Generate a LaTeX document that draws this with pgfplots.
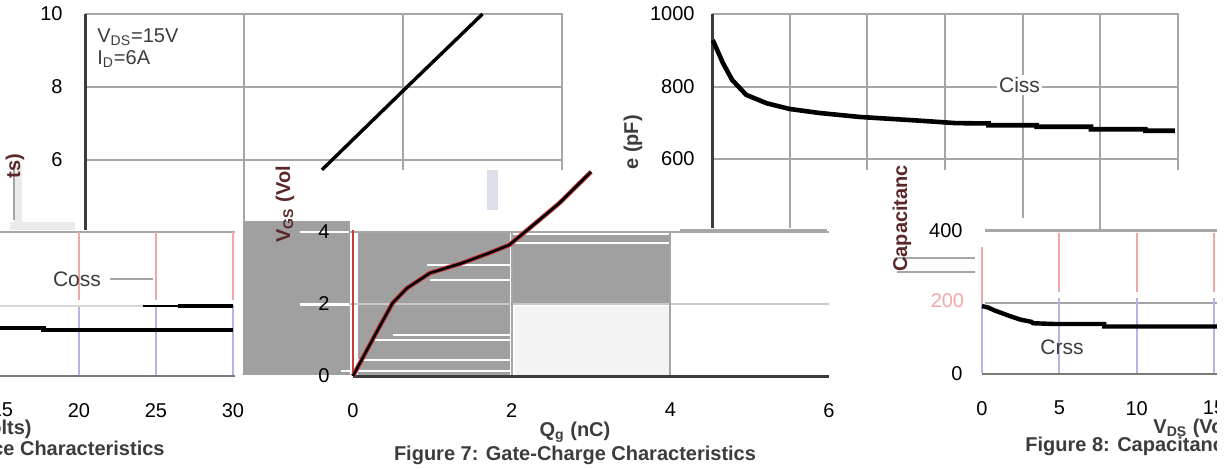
\documentclass[border=0pt]{standalone}
\usepackage{fontspec}
\setmainfont{Liberation Sans}
\usepackage{pgfplots}
\pgfplotsset{compat=1.18}
\definecolor{gridc}{HTML}{A6A6A6}
\definecolor{axd}{HTML}{3C3C3C}
\definecolor{axm}{HTML}{7A7A7A}
\definecolor{fillg}{HTML}{A0A0A0}
\definecolor{lfill}{HTML}{F4F4F4}
\definecolor{pinkl}{HTML}{F0A8A8}
\definecolor{bluel}{HTML}{B4B4E6}
\definecolor{redl}{HTML}{C83C3C}
\definecolor{lbar}{HTML}{EBEBEB}
\definecolor{dred}{HTML}{5A2828}
\definecolor{bbar}{HTML}{DDE0EA}
\definecolor{g2}{HTML}{C8C8C8}
\definecolor{g3}{HTML}{D8D8D8}
\newcommand\f{\fontsize{10}{12}\selectfont}
\newcommand\fl{\fontsize{10.5}{12.5}\selectfont}
\tikzset{gl/.style={draw=gridc,line width=1pt},
         pl/.style={draw=pinkl,line width=0.9pt},
         bl/.style={draw=bluel,line width=0.9pt}}
\pgfplotsset{
  panel/.style={scale only axis, clip=false, axis line style={draw=none},
    major tick length=0pt, tick style={draw=none}, axis on top,
    tick label style={font=\f}, /pgf/number format/assume math mode=true,
    /pgf/number format/1000 sep={},
    anchor=south west, xticklabel style={yshift=-10pt}},
}
\begin{document}
\begin{tikzpicture}[font=\f]
\path[use as bounding box] (0,0) rectangle (614.5pt,-235pt);

% ---------- Panel A : gate charge, upper part ----------
\begin{axis}[panel, at={(42.5pt,-116.5pt)}, width=238.5pt, height=109.5pt,
  xmin=0, xmax=6, ymin=4, ymax=10, xtick=\empty, ytick={6,8,10},
  yticklabel style={xshift=-7.7pt}]
\fill[lbar] (-0.893,5.86) rectangle (-0.792,4.30);
\fill[lbar] (-0.943,4.30) rectangle (-0.126,4.08);
\draw[gridc,line width=0.6pt] (-0.893,5.86) -- (-0.893,4.35);
\fill[bbar] (5.06,5.73) rectangle (5.19,4.63);
\draw[gl] (0,10) -- (6,10) -- (6,5.73);
\draw[gl] (0,8) -- (6,8);
\draw[gl] (0,6) -- (6,6);
\draw[gl] (2,10) -- (2,4.30);
\draw[gl] (4,10) -- (4,5.73);
\draw[axd,line width=1.5pt] (0,10) -- (0,4.08);
\addplot[black, line width=1.7pt] coordinates {(2.98,5.73) (4.05,8) (5.0,10)};
\node[anchor=north west, align=left, inner sep=0pt, font=\f, text=axd] at (0.15,9.62)
  {V\textsubscript{DS}=15V\\[-1pt]I\textsubscript{D}=6A};
\end{axis}

% ---------- Panel B : gate charge, lower part ----------
\begin{axis}[panel, at={(176.5pt,-188pt)}, width=238pt, height=72pt,
  xmin=0, xmax=6, ymin=0, ymax=4, xtick={0,2,4,6}, ytick={0,2,4},
  yticklabel style={xshift=-8.2pt}]
\fill[fillg] (-1.387,0.03) rectangle (-0.04,4.31);
\fill[fillg] (0.06,0.03) rectangle (1.98,3.97);
\fill[fillg] (2.02,2.03) rectangle (4.0,3.92);
\fill[lfill] (2.04,0) rectangle (4.0,1.94);
\draw[white,line width=1.4pt] (-0.67,4.0) -- (0.0,4.0);
\draw[white,line width=1.4pt] (-0.67,1.98) -- (0.0,1.98);
\draw[white,line width=0.8pt] (-0.15,0.14) -- (0.0,0.14);
\draw[white,line width=0.9pt] (0.93,3.08) -- (1.98,3.08);
\draw[white,line width=0.9pt] (0.97,2.67) -- (1.98,2.67);
\draw[white,line width=0.9pt] (0.5,1.14) -- (1.98,1.14);
\draw[white,line width=0.9pt] (0.21,1.0) -- (1.98,1.0);
\draw[white,line width=0.9pt] (0.05,0.44) -- (1.98,0.44);
\draw[white,line width=0.9pt] (0.05,0.14) -- (1.98,0.14);
\draw[white,line width=0.9pt] (2.02,3.69) -- (4.0,3.69);
\draw[gl] (-0.05,4) -- (6,4);
\draw[g2,line width=1pt] (-0.05,2) -- (6,2);
\draw[gl] (2,0) -- (2,4);
\draw[gl] (4,0) -- (4,4);
\draw[redl,line width=0.6pt] (0,0) -- (0,4.06);
\draw[axd,line width=1.5pt] (0,0) -- (6,0);
\addplot[redl, line width=2.3pt] coordinates {(0,0) (0.29,1.19) (0.5,2.03) (0.68,2.44) (0.97,2.86) (1.38,3.14) (1.72,3.42) (1.97,3.64) (2.2,4.06) (2.6,4.8) (3.0,5.67)};
\addplot[black, line width=1.3pt] coordinates {(0,0) (0.29,1.19) (0.5,2.03) (0.68,2.44) (0.97,2.86) (1.38,3.14) (1.72,3.42) (1.97,3.64) (2.2,4.06) (2.6,4.8) (3.0,5.67)};
\end{axis}

% ---------- Panel C : capacitance, upper part ----------
\begin{axis}[panel, at={(356pt,-115.75pt)}, width=233pt, height=108.75pt,
  xmin=0, xmax=30, ymin=400, ymax=1000, xtick=\empty, ytick={600,800,1000},
  yticklabel style={xshift=-5.2pt}]
\draw[gl] (0,1000) -- (30,1000) -- (30,570);
\draw[gl] (0,800) -- (30,800);
\draw[gl] (0,600) -- (30,600);
\draw[gl] (5,1000) -- (5,410);
\draw[gl] (10,1000) -- (10,570);
\draw[gl] (15,1000) -- (15,570);
\draw[gl] (20,1000) -- (20,437);
\draw[gl] (25,1000) -- (25,404);
\draw[gl] (-2.06,404) -- (7.4,404);
\draw[gl] (17.58,404) -- (33.3,404);
\draw[axd,line width=1.5pt] (0,1000) -- (0,410);
\addplot[black, line width=2.3pt] coordinates {(0.05,928) (0.7,865) (1.3,818) (2.2,777) (3.5,754) (5,738) (6.9,727) (9.5,716) (12.9,707) (15.7,699) (17.8,698) (17.8,693) (20.9,693) (20.9,689) (24.4,689) (24.4,682) (27.9,682) (27.9,678) (29.8,678)};
\node[fill=white, inner sep=1pt, font=\fl, text=axd] at (19.8,804) {Ciss};
\end{axis}

% ---------- Panel D : capacitance, lower right ----------
\begin{axis}[panel, at={(491pt,-187pt)}, width=123.75pt, height=71.5pt,
  xmin=0, xmax=16, ymin=0, ymax=400, xtick={0,5,10,15}, ytick={0,400},
  yticklabel style={xshift=-6.2pt}]
\draw[gl] (0.2,400) -- (16,400);
\draw[gl] (0.2,200) -- (16,200);
\draw[gl] (-5.5,324) -- (-0.45,324);
\draw[gl] (-5.5,285) -- (-0.45,285);
\draw[pl] (5,394) -- (5,229);  \draw[bl] (5,212) -- (5,3);
\draw[pl] (10,394) -- (10,229); \draw[bl] (10,212) -- (10,3);
\draw[pl] (15,394) -- (15,229); \draw[bl] (15,212) -- (15,3);
\draw[pl] (0,355) -- (0,200);
\draw[bl] (0,200) -- (0,3);
\draw[axm,line width=1.2pt] (0,0) -- (16,0);
\addplot[black, line width=2.2pt] coordinates {(0,190) (0.4,186) (0.8,178) (1.3,170) (1.8,162) (2.5,152) (3.2,146) (3.3,142) (4.6,140) (7.9,140) (7.9,133) (16,133)};
\node[font=\fl, text=axd] at (5.17,75) {Crss};
\node[anchor=east, font=\f, text=pinkl] at (-0.7,204) {200};
\end{axis}

% ---------- Panel E : capacitance, lower left ----------
\begin{axis}[panel, at={(1pt,-188pt)}, width=115.5pt, height=72pt,
  xmin=15, xmax=30, ymin=0, ymax=400, xtick={15,20,25,30}, ytick=\empty]
\draw[gl] (14.87,400) -- (30.1,400);
\draw[pl] (20,400) -- (20,211); \draw[bl] (20,197) -- (20,0);
\draw[pl] (25,400) -- (25,211); \draw[bl] (25,197) -- (25,0);
\draw[pl] (30,400) -- (30,211); \draw[bl] (30,197) -- (30,0);
\draw[g3,line width=1pt] (14.87,194) -- (24.16,194);
\draw[black,line width=0.8pt] (24.16,194) -- (26.4,194);
\draw[black,line width=2pt] (26.4,194) -- (30,194);
\draw[gl] (22.0,269) -- (24.8,269);
\draw[axm,line width=1.2pt] (14.87,0) -- (30.1,0);
\addplot[black, line width=2.1pt] coordinates {(14.87,133) (17.7,133) (17.7,128) (30,128)};
\node[font=\fl, text=axd] at (19.87,269) {Coss};
\end{axis}

% ---------- titles and labels ----------
\node[font=\bfseries\f, text=dred, rotate=90, anchor=east] at (7.5pt,-73.5pt) {ts)};
\node[font=\bfseries\f, text=dred, rotate=90, anchor=west, inner sep=0pt] at (142.5pt,-121.5pt) {V\textsubscript{GS} (Vol};
\node[font=\bfseries\f, text=axd, rotate=90, anchor=west, inner sep=0pt] at (316.5pt,-85pt) {e (pF)};
\node[font=\bfseries\f, text=dred, rotate=90, anchor=west, inner sep=0pt] at (451pt,-136pt) {Capacitanc};
\node[font=\bfseries\f, text=axd] at (287.5pt,-216pt) {Q\textsubscript{g} (nC)};
\node[font=\bfseries\f, text=axd] at (287.5pt,-227.5pt) {Figure 7: Gate-Charge Characteristics};
\node[font=\bfseries\f, text=axd, anchor=east, inner sep=0pt] at (16pt,-214.5pt) {V\textsubscript{DS} (Volts)};
\node[font=\bfseries\f, text=axd, anchor=east, inner sep=0pt] at (82.5pt,-225pt) {Figure 8: Capacitance Characteristics};
\node[font=\bfseries\f, text=axd, anchor=west, inner sep=0pt] at (576.5pt,-214pt) {V\textsubscript{DS} (Volts)};
\node[font=\bfseries\f, text=axd, anchor=west, inner sep=0pt] at (512.5pt,-223pt) {Figure 8: Capacitance Characteristics};
\fill[white] (608.5pt,1pt) rectangle (615pt,-236pt);
\end{tikzpicture}
\end{document}
